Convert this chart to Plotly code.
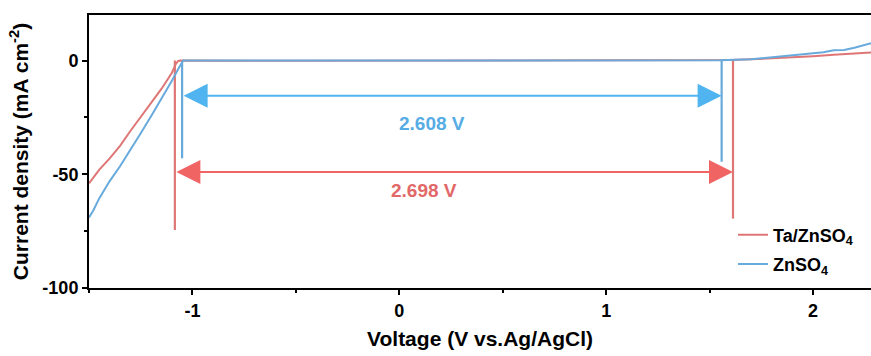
import plotly.graph_objects as go

# Linear sweep voltammetry curves (current density vs potential)
ta_v = [-1.50, -1.45, -1.40, -1.35, -1.30, -1.25, -1.20, -1.15, -1.10, -1.08, -1.07, -1.06,
        -0.50, 0.00, 0.50, 1.00, 1.50, 1.60, 1.70, 1.80, 1.90, 2.00, 2.10, 2.20, 2.28]
ta_j = [-54.0, -48.0, -43.0, -37.5, -31.0, -25.0, -19.0, -12.5, -5.5, -1.5, -0.3, 0.0,
        -0.1, -0.1, -0.1, 0.0, 0.0, 0.2, 0.5, 0.9, 1.4, 1.9, 2.5, 3.0, 3.5]

zn_v = [-1.50, -1.48, -1.45, -1.40, -1.35, -1.30, -1.25, -1.20, -1.15, -1.10, -1.07, -1.05,
        -1.045, -0.50, 0.00, 0.50, 1.00, 1.55, 1.70, 1.85, 1.95, 2.05, 2.10, 2.15, 2.20, 2.25, 2.28]
zn_j = [-69.0, -66.0, -60.5, -53.0, -46.5, -39.5, -32.0, -24.5, -17.0, -9.0, -4.0, -0.5,
        0.0, 0.0, 0.0, 0.0, 0.0, 0.1, 0.5, 1.9, 2.8, 3.6, 4.5, 4.6, 5.6, 6.8, 7.6]

# Stability-window limits (V) and marker depths (mA cm-2)
ta_limits = [-1.085, 1.613]
ta_depths = [-74.5, -69.5]
zn_limits = [-1.050, 1.558]
zn_depths = [-43.0, -44.5]

window_labels = ["2.698 V", "2.608 V"]
arrow_levels = [-49.0, -15.5]
label_pos = [(0.12, -57.0), (0.16, -27.5)]

x_tickvals = [-1, 0, 1, 2]
x_ticktext = ["-1", "0", "1", "2"]
y_tickvals = [0, -50, -100]
y_ticktext = ["0", "-50", "-100"]

RED = "rgb(222,118,118)"
BLUE = "rgb(104,170,220)"
RED_ARROW = "rgb(240,100,100)"
BLUE_ARROW = "rgb(80,180,240)"
RED_TEXT = "rgb(226,104,104)"
BLUE_TEXT = "rgb(86,172,228)"
FONT = "Liberation Sans, Arial, sans-serif"

fig = go.Figure()

# window marker verticals
for v, d in zip(ta_limits, ta_depths):
    fig.add_trace(go.Scatter(x=[v, v], y=[0, d], mode="lines", showlegend=False,
                             line=dict(color=RED, width=2.2), hoverinfo="skip"))
for v, d in zip(zn_limits, zn_depths):
    fig.add_trace(go.Scatter(x=[v, v], y=[0, d], mode="lines", showlegend=False,
                             line=dict(color=BLUE, width=2.2), hoverinfo="skip"))

fig.add_trace(go.Scatter(x=ta_v, y=ta_j, mode="lines", name="Ta/ZnSO<sub>4</sub>",
                         legendgroup="ta", line=dict(color=RED, width=2)))
fig.add_trace(go.Scatter(x=zn_v, y=zn_j, mode="lines", name="ZnSO<sub>4</sub>",
                         legendgroup="zn", line=dict(color=BLUE, width=2)))

# double-headed arrows spanning each window
for limits, level, col in [(ta_limits, arrow_levels[0], RED_ARROW),
                           (zn_limits, arrow_levels[1], BLUE_ARROW)]:
    fig.add_annotation(x=limits[1], y=level, ax=limits[0], ay=level,
                       xref="x", yref="y", axref="x", ayref="y",
                       text="", showarrow=True, arrowhead=2, arrowside="end+start",
                       arrowsize=2.4, arrowwidth=2, arrowcolor=col,
                       standoff=0, startstandoff=0)

for txt, (px, py), col in zip(window_labels, label_pos, [RED_TEXT, BLUE_TEXT]):
    fig.add_annotation(x=px, y=py, xref="x", yref="y", text=f"<b>{txt}</b>",
                       showarrow=False, font=dict(family=FONT, size=19, color=col))

fig.update_layout(
    width=871, height=356,
    margin=dict(l=89, r=0, t=15, b=68),
    paper_bgcolor="white", plot_bgcolor="white",
    font=dict(family=FONT, color="black"),
    legend=dict(x=0.8235, y=0.262, xanchor="left", yanchor="top",
                bgcolor="rgba(0,0,0,0)", tracegroupgap=3,
                font=dict(family=FONT, size=18, color="black", weight="bold")),
    showlegend=True,
)

fig.update_xaxes(
    range=[-1.5, 2.28], showgrid=False, zeroline=False,
    showline=True, linecolor="black", linewidth=2, mirror=True,
    ticks="outside", ticklen=5, tickwidth=2, tickcolor="black",
    tickvals=x_tickvals, ticktext=x_ticktext,
    minor=dict(dtick=0.5, ticks="outside", ticklen=3, tickwidth=2, tickcolor="black"),
    tickfont=dict(family=FONT, size=18, color="black", weight="bold"),
    title=dict(text="<b>Voltage (V vs.Ag/AgCl)</b>", standoff=12,
               font=dict(family=FONT, size=21, color="black")),
)
fig.update_yaxes(
    range=[-100, 20], showgrid=False, zeroline=False,
    showline=True, linecolor="black", linewidth=2, mirror=False,
    ticks="outside", ticklen=5, tickwidth=2, tickcolor="black",
    tickvals=y_tickvals, ticktext=y_ticktext,
    minor=dict(dtick=25, ticks="outside", ticklen=3, tickwidth=2, tickcolor="black"),
    tickfont=dict(family=FONT, size=18, color="black", weight="bold"),
    title=dict(text="<b>Current density (mA cm<sup>-2</sup>)</b>", standoff=8,
               font=dict(family=FONT, size=21, color="black")),
)

fig.write_html("out.html")
